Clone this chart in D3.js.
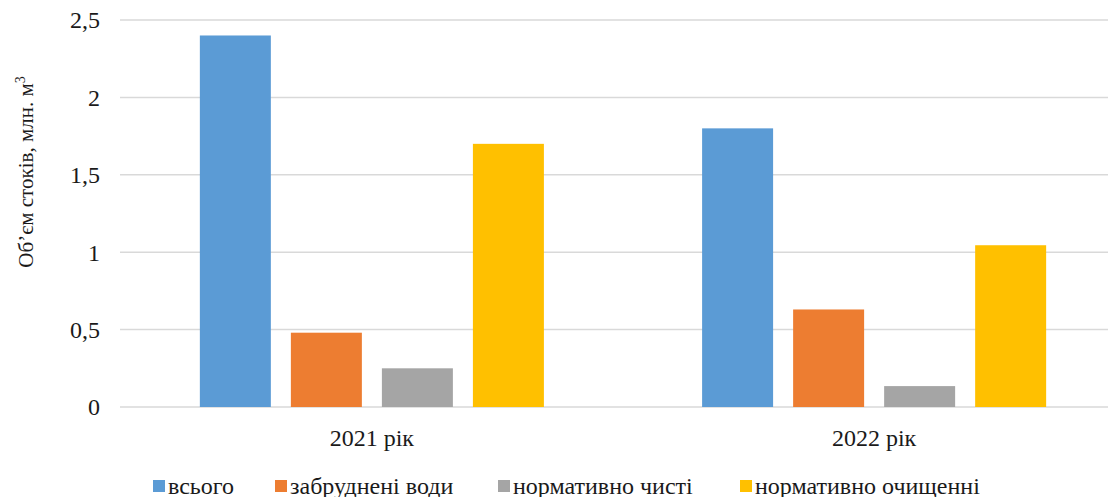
<!DOCTYPE html>
<html>
<head>
<meta charset="utf-8">
<script src="https://cdn.jsdelivr.net/npm/d3@7/dist/d3.min.js"></script>
<style>
  body { margin: 0; background: #fff; }
  svg text { font-family: "Liberation Serif", "Times New Roman", "DejaVu Serif", serif; fill: #1a1a1a; }
</style>
</head>
<body>
<svg></svg>
<script>
var years = ["2021 рік", "2022 рік"];
var seriesNames = ["всього", "забруднені води", "нормативно чисті", "нормативно очищенні"];
var seriesColors = ["#5b9bd5", "#ed7d31", "#a5a5a5", "#ffc000"];
var total = [2.4, 1.8];
var polluted = [0.48, 0.63];
var clean = [0.25, 0.135];
var treated = [1.7, 1.045];
var yTicks = [0, 0.5, 1, 1.5, 2, 2.5];

var chartW = 1108;
var chartH = 497;
var plotLeft = 121, plotRight = 1125, plotTop = 20, plotBottom = 407;

var table = years.map(function(yr, i){
  return {year: yr, values: [total[i], polluted[i], clean[i], treated[i]]};
});

var svg = d3.select('svg')
    .attr('width', chartW)
    .attr('height', chartH);

var x = d3.scaleBand()
    .domain(years)
    .range([plotLeft, plotRight])
    .paddingInner(0.315)
    .paddingOuter(0.157);

var x1 = d3.scaleBand()
    .domain(d3.range(seriesNames.length))
    .range([0, x.bandwidth()])
    .paddingInner(0.22);

var y = d3.scaleLinear()
    .domain([0, 2.5])
    .range([plotBottom, plotTop]);

// gridlines
svg.append('g')
  .selectAll('line')
  .data(yTicks)
  .enter()
  .append('line')
    .attr('x1', plotLeft - 1)
    .attr('x2', chartW)
    .attr('y1', d => y(d))
    .attr('y2', d => y(d))
    .attr('stroke', '#d9d9d9')
    .attr('stroke-width', 1.5);

// tick labels
svg.append('g')
  .selectAll('text')
  .data(yTicks)
  .enter()
  .append('text')
    .attr('x', 100)
    .attr('y', d => y(d))
    .attr('dy', '0.35em')
    .attr('text-anchor', 'end')
    .style('font-size', '24px')
    .text(d => String(d).replace('.', ','));

// bars
var groups = svg.append('g')
  .selectAll('g')
  .data(table)
  .enter()
  .append('g')
    .attr('transform', d => 'translate(' + x(d.year) + ',0)');

groups.selectAll('rect')
  .data(d => d.values)
  .enter()
  .append('rect')
    .attr('x', (d, i) => x1(i))
    .attr('y', d => y(d))
    .attr('width', x1.bandwidth())
    .attr('height', d => y(0) - y(d))
    .attr('fill', (d, i) => seriesColors[i]);

// x labels
svg.append('g')
  .selectAll('text')
  .data(years)
  .enter()
  .append('text')
    .attr('x', d => x(d) + x.bandwidth() / 2)
    .attr('y', 446)
    .attr('text-anchor', 'middle')
    .style('font-size', '24px')
    .text(d => d);

// y title
var title = svg.append('text')
    .attr('transform', 'translate(33,172) rotate(-90)')
    .attr('text-anchor', 'middle')
    .style('font-size', '21px');
title.append('tspan').text('Об’єм стоків, млн. м');
title.append('tspan')
    .attr('dy', -8)
    .style('font-size', '14px')
    .text('3');

// legend
var legendX = [153, 275, 498, 740];
var legend = svg.append('g')
  .selectAll('g')
  .data(seriesNames)
  .enter()
  .append('g')
    .attr('transform', (d, i) => 'translate(' + legendX[i] + ',480)');

legend.append('rect')
    .attr('x', 0)
    .attr('y', 0)
    .attr('width', 12)
    .attr('height', 12)
    .attr('fill', (d, i) => seriesColors[i]);

legend.append('text')
    .attr('x', 15)
    .attr('y', 14)
    .style('font-size', '24px')
    .text(d => d);
</script>
</body>
</html>
